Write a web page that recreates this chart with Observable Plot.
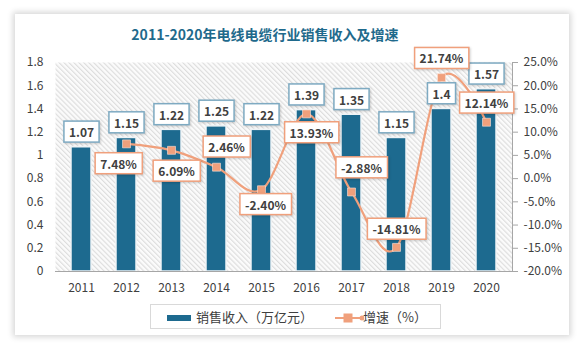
<!DOCTYPE html>
<html><head><meta charset="utf-8">
<script src="https://cdn.jsdelivr.net/npm/d3@7"></script>
<script src="https://cdn.jsdelivr.net/npm/@observablehq/plot@0.6"></script>
<style>
body{margin:0;background:#fff;font-family:"Noto Sans CJK SC",sans-serif;}
#wrap{position:relative;width:586px;height:351px;overflow:hidden;background:#fff}
#card{position:absolute;left:15px;top:14px;width:554px;height:321px;background:#fff;box-shadow:0 0 6px 2px rgba(0,0,0,0.16);}
#title{position:absolute;left:0;width:530px;top:24px;text-align:center;font-size:14px;font-weight:bold;color:#1f6a8c;line-height:20px;}
#chart{position:absolute;left:0;top:44px;}
#legend{position:absolute;left:150px;top:304px;width:291px;height:25px;border:1px solid #d9d9d9;box-sizing:border-box;font-size:13px;color:#404040;}
#legend .sw1{position:absolute;left:16px;top:10px;width:24px;height:6px;background:#1d6a8f;}
#legend .t1{position:absolute;left:45px;top:2px;line-height:20px;}
#legend .t2{position:absolute;left:212px;top:2px;line-height:20px;}
#legend svg{position:absolute;left:183px;top:4px;}
#err{position:absolute;left:0;top:0;color:red;font-size:10px;}
</style>
</head><body>
<div id="wrap">
  <div id="card"></div>
  <div id="title">2011-2020年电线电缆行业销售收入及增速</div>
  <div id="chart"></div>
  <div id="legend">
    <div class="sw1"></div><div class="t1">销售收入（万亿元）</div>
    <svg width="30" height="18"><line x1="1" y1="9" x2="28" y2="9" stroke="#f0a07c" stroke-width="2"/><rect x="9.5" y="4.5" width="9" height="9" fill="#f0a07c"/><circle cx="28" cy="9" r="2.5" fill="#f0a07c"/></svg>
    <div class="t2">增速（%）</div>
  </div>
  <div id="err"></div>
</div>
<script>
const years = ["2011","2012","2013","2014","2015","2016","2017","2018","2019","2020"];
const revenue = [1.07,1.15,1.22,1.25,1.22,1.39,1.35,1.15,1.4,1.57];
const growthYears = ["2012","2013","2014","2015","2016","2017","2018","2019","2020"];
const growth = [7.48,6.09,2.46,-2.40,13.93,-2.88,-14.81,21.74,12.14];
const leftTicks = [0,0.2,0.4,0.6,0.8,1,1.2,1.4,1.6,1.8];
const rightTicks = [-20,-15,-10,-5,0,5,10,15,20,25];

// label placement (layout only): [dx, dy] for each growth label
const pctLabelPos = [[-8,21],[5,22],[10,-19],[4,16],[5,20],[10,-23],[0,-17],[0,-18],[0,-18]];

try {
const LMIN = -20, LMAX = 25, YMAX = 1.8;
const toY = p => (p - LMIN) / (LMAX - LMIN) * YMAX;
const fromY = v => v / YMAX * (LMAX - LMIN) + LMIN;

const lineColor = "#f0a07c";
const barColor = "#1d6a8f";

const bars = years.map((y,i)=>({year:y, v:revenue[i]}));
const pts = growthYears.map((y,i)=>({year:y, g:growth[i], yv:toY(growth[i])}));

const pctMarks = pts.map((d,i)=>Plot.text([d], {
  x:"year", y:"yv", text: d=>d.g.toFixed(2)+"%",
  dx: pctLabelPos[i][0], dy: pctLabelPos[i][1],
  fontSize:12, fontWeight:"bold", fill:"#404040", ariaDescription:"pctlab"
}));

const chart = Plot.plot({
  width:586, height:262,
  marginLeft:55, marginRight:74, marginTop:18, marginBottom:35,
  style:{fontFamily:"'Noto Sans CJK SC', sans-serif", fontSize:"12px", color:"#404040", background:"transparent"},
  x:{domain:years, type:"band", paddingInner:0.56, paddingOuter:0.28},
  y:{domain:[0,YMAX]},
  marks:[
    Plot.frame({fill:"#f6f6f6", stroke:"none", ariaDescription:"bgframe"}),
    Plot.barY(bars, {x:"year", y:"v", fill:barColor, stroke:"#eef3f6", strokeWidth:1.5}),
    Plot.ruleY([0], {stroke:"#a6a6a6", strokeWidth:1.2}),
    Plot.frame({anchor:"right", stroke:"#a6a6a6"}),
    Plot.axisX({tickSize:0, tickPadding:12, label:null, fontSize:12}),
    Plot.axisY({anchor:"left", ticks:leftTicks, tickSize:0, tickPadding:12, tickFormat:d=>String(d), label:null, fontSize:12}),
    Plot.axisY({anchor:"right", ticks:rightTicks.map(toY), tickSize:5, tickPadding:6, stroke:"#a6a6a6",
      tickFormat:d=>Math.round(fromY(d)).toFixed(1)+"%", label:null, fontSize:12}),
    Plot.line(pts, {x:"year", y:"yv", curve:"cardinal", stroke:lineColor, strokeWidth:2.2}),
    Plot.dot(pts, {x:"year", y:"yv", symbol:"square", r:4.5, fill:lineColor, stroke:"#fbe3d8", strokeWidth:0.6}),
    Plot.text(bars, {x:"year", y:"v", text:d=>String(d.v), dy:-14, fontSize:12, fontWeight:"bold", fill:"#404040", ariaDescription:"barlab"}),
    ...pctMarks
  ]
});

document.getElementById("chart").appendChild(chart);

const ns = "http://www.w3.org/2000/svg";
const defs = document.createElementNS(ns, "defs");
const pat = document.createElementNS(ns, "pattern");
pat.setAttribute("id","hatch");
pat.setAttribute("width","3.5"); pat.setAttribute("height","3.5");
pat.setAttribute("patternUnits","userSpaceOnUse");
pat.setAttribute("patternTransform","rotate(-45)");
const bg = document.createElementNS(ns,"rect");
bg.setAttribute("width","3.5"); bg.setAttribute("height","3.5"); bg.setAttribute("fill","#fbfbfb");
const ln = document.createElementNS(ns,"line");
ln.setAttribute("x1","0.6"); ln.setAttribute("y1","0"); ln.setAttribute("x2","0.6"); ln.setAttribute("y2","3.5");
ln.setAttribute("stroke","#dcdcdc"); ln.setAttribute("stroke-width","1.1");
pat.appendChild(bg); pat.appendChild(ln); defs.appendChild(pat);
chart.insertBefore(defs, chart.firstChild);

const bgEl = chart.querySelector('[aria-description="bgframe"]');
if (bgEl) {
  const r = bgEl.tagName.toLowerCase()==="rect" ? bgEl : bgEl.querySelector("rect");
  if (r) r.setAttribute("fill","url(#hatch)");
}

function boxes(label, stroke){
  chart.querySelectorAll(`[aria-description="${label}"] text`).forEach(t=>{
    const b = t.getBBox();
    const r = document.createElementNS(ns,"rect");
    const h = 21, w = b.width + 10;
    r.setAttribute("x", b.x + b.width/2 - w/2);
    r.setAttribute("y", b.y + b.height/2 - h/2);
    r.setAttribute("width", w); r.setAttribute("height", h);
    r.setAttribute("fill","#fff"); r.setAttribute("stroke", stroke); r.setAttribute("stroke-width","1.5");
    r.setAttribute("style","filter:drop-shadow(1px 1px 1px rgba(0,0,0,0.18))");
    const tr = t.getAttribute("transform");
    if (tr) r.setAttribute("transform", tr);
    t.parentNode.insertBefore(r, t);
  });
}
boxes("barlab", "#7eaac2");
boxes("pctlab", lineColor);
} catch(e) { document.getElementById("err").textContent = e.message; }
</script>
</body></html>
